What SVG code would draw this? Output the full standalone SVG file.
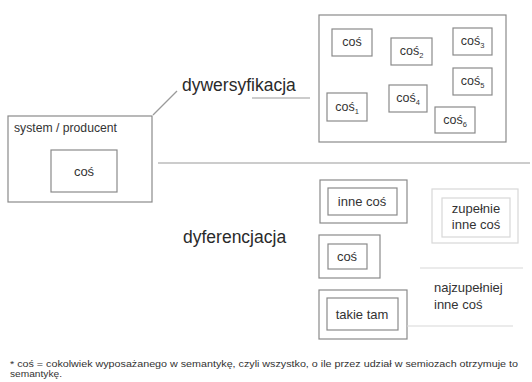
<svg xmlns="http://www.w3.org/2000/svg" width="532" height="382" viewBox="0 0 532 382">
<style>
  .box { fill: none; stroke: #8a8a8a; stroke-width: 1.2; }
  .faint { fill: none; stroke: #d8d8d8; stroke-width: 1.2; }
  .line { fill: none; stroke: #9a9a9a; stroke-width: 1.2; }
  .t { font-family: "Liberation Sans", Arial, sans-serif; fill: #333; }
  .s { font-size: 12.5px; }
  .m { font-size: 13px; }
  .big { font-size: 17.5px; fill: #2a2a2a; }
  .sub { font-size: 7.5px; }
</style>
<rect width="532" height="382" fill="#ffffff"/>

<g id="connectors">
  <line class="line" x1="153" y1="115" x2="177" y2="91"/>
  <line class="line" x1="252" y1="98" x2="310" y2="98"/>
  <line class="line" x1="158" y1="163" x2="530" y2="163"/>
</g>

<g id="system">
  <rect class="box" x="8" y="116" width="144" height="86"/>
  <text class="t" x="14" y="132" font-size="12.2">system / producent</text>
</g>
<g id="cos-main">
  <rect class="box" x="51" y="150" width="66" height="42"/>
  <text class="t m" x="84" y="176" text-anchor="middle">coś</text>
</g>

<g id="dywersyfikacja-label">
  <text class="t big" x="182" y="91">dywersyfikacja</text>
</g>

<g id="diversity-box">
  <rect class="box" x="319" y="15" width="187" height="127"/>
</g>
<g id="cos0">
  <rect class="box" x="332" y="29" width="40" height="27"/>
  <text class="t s" x="352" y="46" text-anchor="middle">coś</text>
</g>
<g id="cos2">
  <rect class="box" x="391" y="38" width="41" height="27"/>
  <text class="t s" x="411.5" y="55" text-anchor="middle">coś<tspan class="sub" dy="3">2</tspan></text>
</g>
<g id="cos3">
  <rect class="box" x="453" y="28" width="39" height="27"/>
  <text class="t s" x="472.5" y="45" text-anchor="middle">coś<tspan class="sub" dy="3">3</tspan></text>
</g>
<g id="cos5">
  <rect class="box" x="453" y="68" width="39" height="27"/>
  <text class="t s" x="472.5" y="85" text-anchor="middle">coś<tspan class="sub" dy="3">5</tspan></text>
</g>
<g id="cos4">
  <rect class="box" x="389" y="85" width="38" height="27"/>
  <text class="t s" x="408" y="102" text-anchor="middle">coś<tspan class="sub" dy="3">4</tspan></text>
</g>
<g id="cos1">
  <rect class="box" x="327" y="93" width="40" height="28"/>
  <text class="t s" x="347" y="111" text-anchor="middle">coś<tspan class="sub" dy="3">1</tspan></text>
</g>
<g id="cos6">
  <rect class="box" x="435" y="107" width="40" height="26"/>
  <text class="t s" x="455" y="124" text-anchor="middle">coś<tspan class="sub" dy="3">6</tspan></text>
</g>

<g id="dyferencjacja-label">
  <text class="t big" x="183" y="243">dyferencjacja</text>
</g>

<g id="inne-cos">
  <rect class="box" x="320" y="180" width="87" height="43" stroke="#b5b5b5"/>
  <rect class="box" x="328" y="188" width="69" height="27"/>
  <text class="t m" x="362" y="206" text-anchor="middle">inne coś</text>
</g>
<g id="cos-diff">
  <rect class="box" x="319" y="235" width="61" height="43" stroke="#b5b5b5"/>
  <rect class="box" x="328" y="244" width="39" height="25"/>
  <text class="t m" x="347" y="261" text-anchor="middle">coś</text>
</g>
<g id="takie-tam">
  <rect class="box" x="319" y="290" width="88" height="49" stroke="#c5c5c5"/>
  <rect class="box" x="327" y="298" width="71" height="32" stroke="#b0b0b0"/>
  <text class="t m" x="362" y="319" text-anchor="middle">takie tam</text>
</g>
<g id="zupelnie">
  <rect class="faint" x="432" y="189" width="86" height="54"/>
  <rect class="faint" x="442" y="198" width="68" height="39"/>
  <text class="t m" x="476" y="213" text-anchor="middle">zupełnie</text>
  <text class="t m" x="476" y="229" text-anchor="middle">inne coś</text>
</g>
<g id="najzupelniej">
  <line class="faint" x1="420" y1="268" x2="523" y2="268"/>
  <line class="faint" x1="407" y1="326" x2="513" y2="326"/>
  <text class="t m" x="434" y="292">najzupełniej</text>
  <text class="t m" x="434" y="309">inne coś</text>
</g>

<g id="footnote">
  <text class="t" x="10" y="367" font-size="9.5" fill="#555" textLength="508" lengthAdjust="spacingAndGlyphs">* coś = cokolwiek wyposażanego w semantykę, czyli wszystko, o ile przez udział w semiozach otrzymuje to</text>
  <text class="t" x="10" y="377" font-size="9.5" fill="#555" textLength="52" lengthAdjust="spacingAndGlyphs">semantykę.</text>
</g>
</svg>
